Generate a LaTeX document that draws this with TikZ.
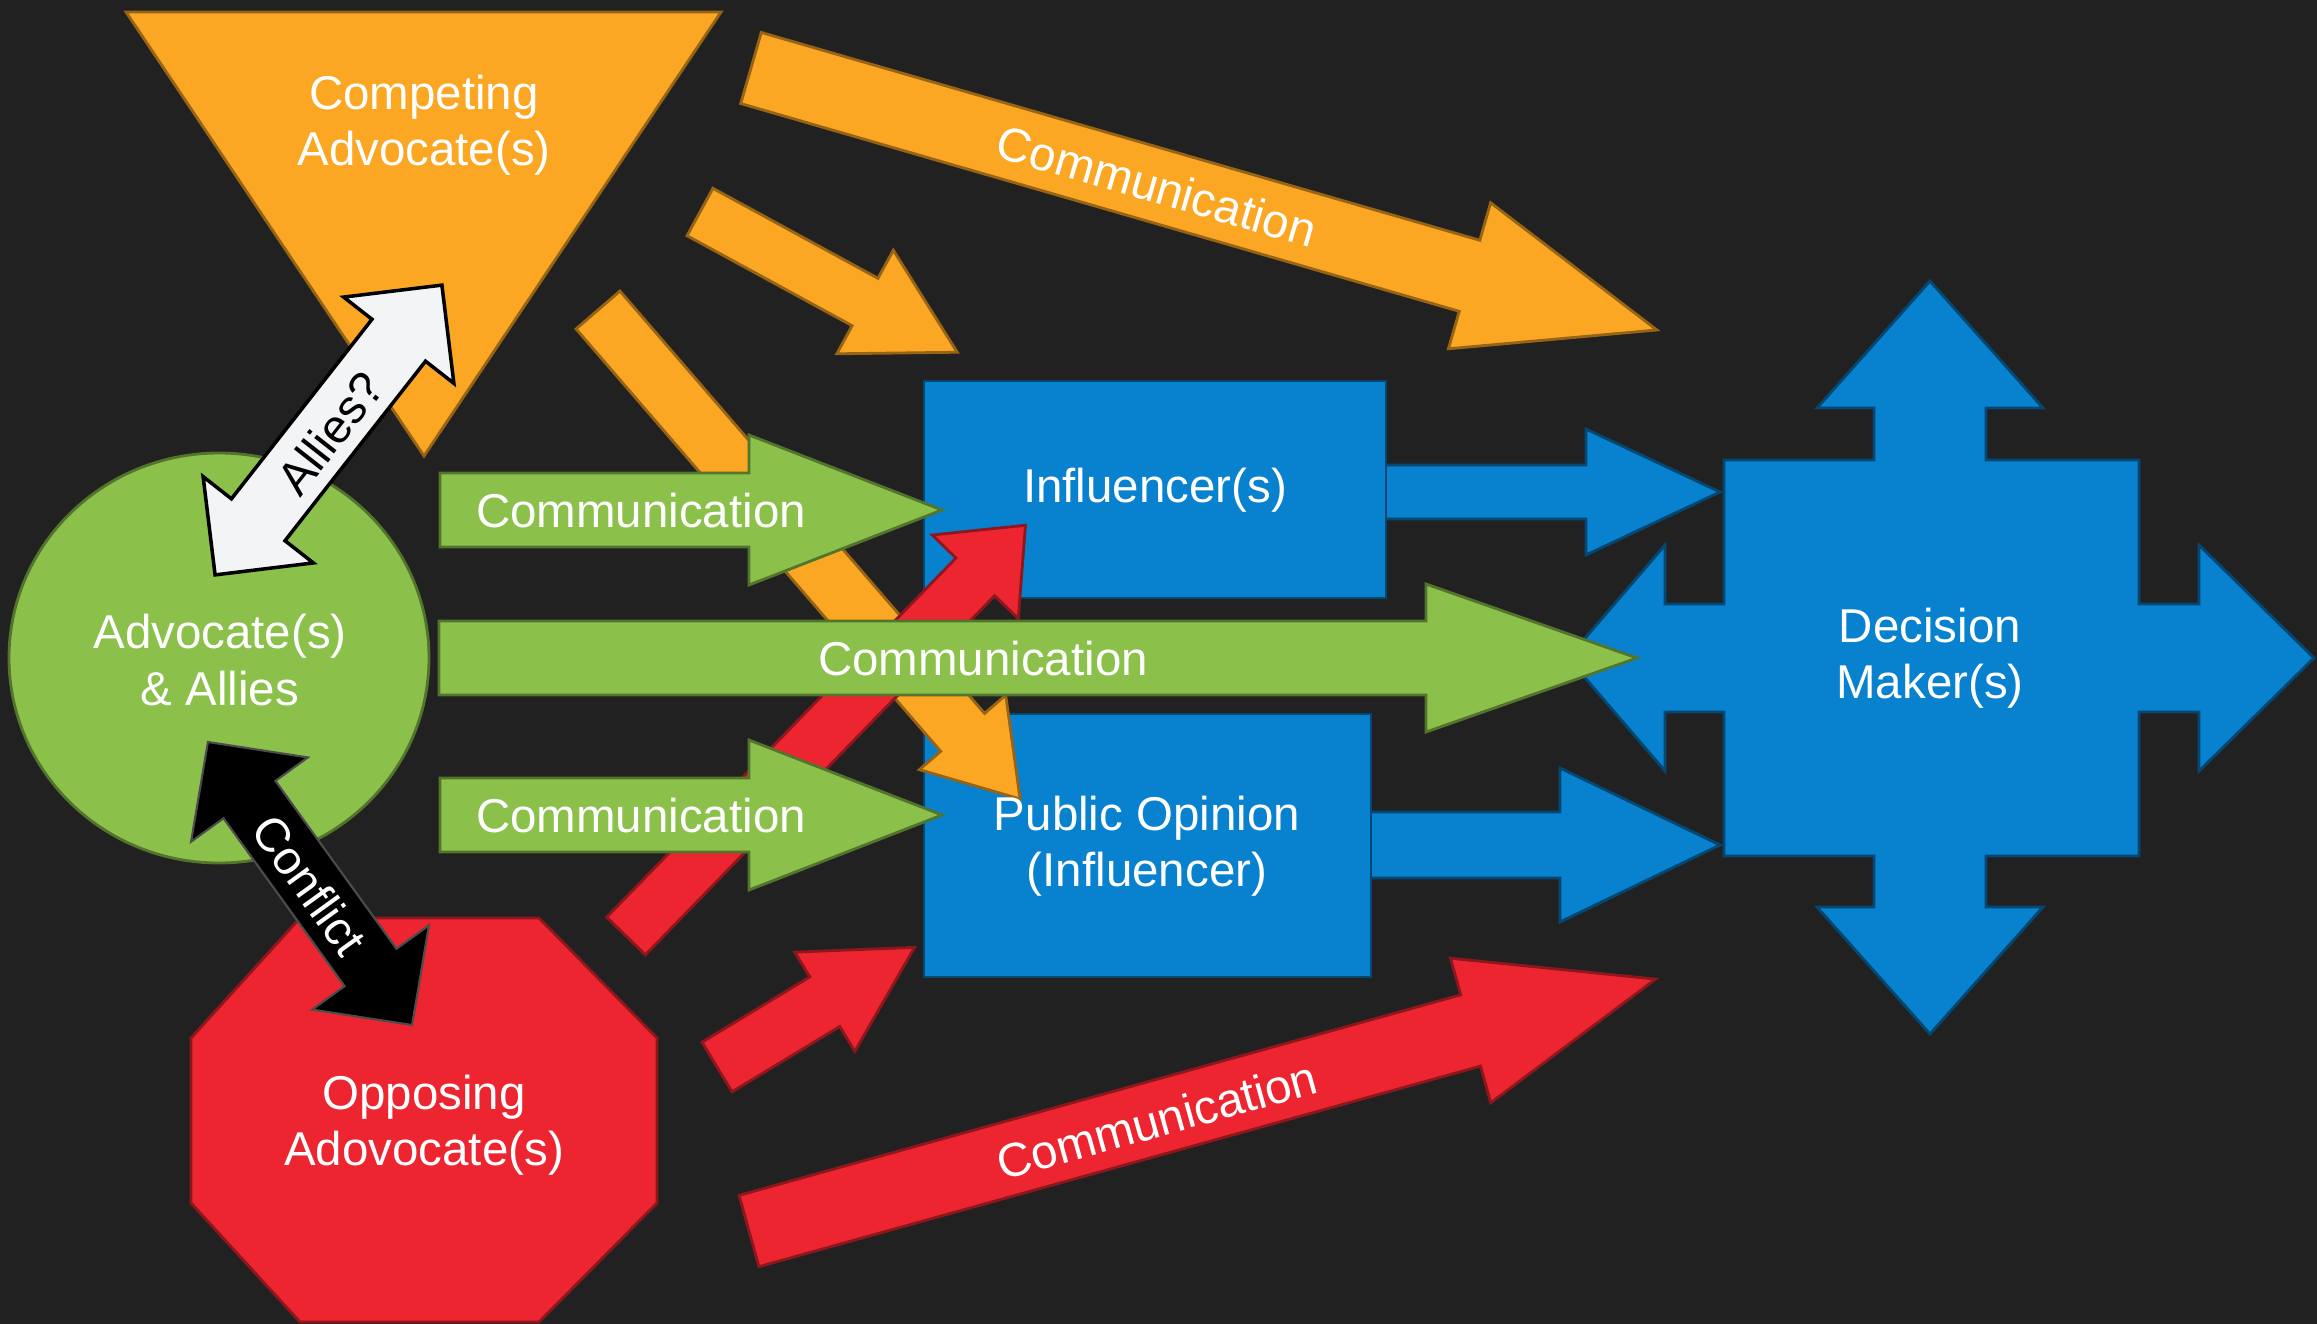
\documentclass[tikz,border=0pt]{standalone}
\usepackage{fontspec}
\setmainfont{Liberation Sans}
\usepackage{tikz}

\definecolor{bgdark}{RGB}{33,33,33}
\definecolor{advorange}{RGB}{251,167,36}
\definecolor{advgreen}{RGB}{139,193,74}
\definecolor{advred}{RGB}{237,37,48}
\definecolor{advblue}{RGB}{8,129,206}
\definecolor{alliesgray}{RGB}{243,244,246}

\newcommand{\lblsiz}{\fontsize{13.5}{16}\selectfont}

\tikzset{
    orangeshape/.style={fill=advorange, draw=advorange!60!black, line width=0.8pt},
    greenshape/.style={fill=advgreen, draw=advgreen!60!black, line width=0.8pt},
    redshape/.style={fill=advred, draw=advred!60!black, line width=0.8pt},
    blueshape/.style={fill=advblue, draw=advblue!55!black, line width=0.8pt},
    whiteshape/.style={fill=alliesgray, draw=black, line width=1pt},
    blackshape/.style={fill=black, draw=black!70, line width=0.6pt},
    shapetext/.style={text=white, align=center, inner sep=0pt, font=\lblsiz},
}

% block arrow: style, tail, angle, length, shaft half width, head half width, head length
\newcommand{\blockArrow}[7]{
    \filldraw[#1, shift={(#2)}, rotate=#3]
        (0,-#5) -- ({#4-#7},-#5) -- ({#4-#7},-#6) -- (#4,0)
        -- ({#4-#7},#6) -- ({#4-#7},#5) -- (0,#5) -- cycle;
}
% double block arrow: style, centre, angle, length, shaft half width, head half width, head length
\newcommand{\doubleArrow}[7]{
    \filldraw[#1, shift={(#2)}, rotate=#3]
        ({-#4/2},0) -- ({-#4/2+#7},#6) -- ({-#4/2+#7},#5)
        -- ({#4/2-#7},#5) -- ({#4/2-#7},#6) -- ({#4/2},0)
        -- ({#4/2-#7},-#6) -- ({#4/2-#7},-#5)
        -- ({-#4/2+#7},-#5) -- ({-#4/2+#7},-#6) -- cycle;
}

\begin{document}
\begin{tikzpicture}[x=0.01cm, y=-0.01cm]

    \fill[bgdark] (0,0) rectangle (2317,1324);

    % the three advocate groups
    \filldraw[orangeshape] (126,12) -- (721,12) -- (424,456) -- cycle;
    \filldraw[greenshape] (219,658) ellipse [x radius=210, y radius=205];
    \filldraw[redshape] (300,918) -- (539,918) -- (657,1038) -- (657,1203)
        -- (539,1322) -- (300,1322) -- (191,1203) -- (191,1038) -- cycle;

    % decision makers
    \filldraw[blueshape] (1930,281) -- (2043,408) -- (1986,408) -- (1986,460)
        -- (2139,460) -- (2139,604) -- (2199,604) -- (2199,545) -- (2314,658)
        -- (2199,771) -- (2199,712) -- (2139,712) -- (2139,856) -- (1986,856)
        -- (1986,907) -- (2043,907) -- (1930,1034) -- (1817,907) -- (1874,907)
        -- (1874,856) -- (1724,856) -- (1724,712) -- (1665,712) -- (1665,771)
        -- (1568,658) -- (1665,545) -- (1665,604) -- (1724,604) -- (1724,460)
        -- (1874,460) -- (1874,408) -- (1817,408) -- cycle;

    % influencers
    \blockArrow{blueshape}{1380,492}{0}{340}{27}{63}{134};
    \blockArrow{blueshape}{1365,845}{0}{355}{33}{77}{160};
    \filldraw[blueshape] (924,381) rectangle (1386,598);
    \filldraw[blueshape] (924,714) rectangle (1371,977);

    % orange and red communication
    \blockArrow{orangeshape}{598,310}{-49.2}{646}{29}{57}{88};
    \blockArrow{orangeshape}{700,212}{-28.6}{293}{27}{59}{105};
    \blockArrow{orangeshape}{751,68}{-16.13}{943}{37}{76}{195};
    \blockArrow{redshape}{626,936}{45.8}{573}{27}{60}{72};
    \blockArrow{redshape}{717,1067}{31.2}{231}{29}{58}{105};
    \blockArrow{redshape}{749,1231}{15.53}{941}{37}{75}{192};

    % green communication
    \blockArrow{greenshape}{440,510}{0}{502}{37}{75}{193};
    \blockArrow{greenshape}{439,658}{0}{1198}{37}{74}{211};
    \blockArrow{greenshape}{440,815}{0}{502}{37}{75}{193};

    % allies / conflict
    \doubleArrow{whiteshape}{328.5,430}{51.95}{368}{34}{70}{70};
    \doubleArrow{blackshape}{310,883.5}{-54.2}{349}{32}{72}{71};

    \node[shapetext] (compAdv) at (424,125) {Competing\\Advocate(s)};
    \node[shapetext] (advAllies) at (220,660) {Advocate(s)\\\& Allies};
    \node[shapetext] (oppAdv) at (424,1125) {Opposing\\Adovocate(s)};
    \node[shapetext] (influencer) at (1155,490) {Influencer(s)};
    \node[shapetext] (publicOp) at (1147,846) {Public Opinion\\(Influencer)};
    \node[shapetext] (decMaker) at (1930,658) {Decision\\Maker(s)};

    \node[shapetext, rotate=-16.13] (commOrange) at (1157,186) {Communication};
    \node[shapetext, rotate=15.53] (commRed) at (1157,1120) {Communication};
    \node[shapetext] (commTop) at (641,511) {Communication};
    \node[shapetext] (commMid) at (983,659) {Communication};
    \node[shapetext] (commBot) at (641,816) {Communication};
    \node[shapetext, text=black, rotate=51.95] (allies) at (330,433) {Allies?};
    \node[shapetext, rotate=-54.2] (conflict) at (310,885) {Conflict};

\end{tikzpicture}
\end{document}
